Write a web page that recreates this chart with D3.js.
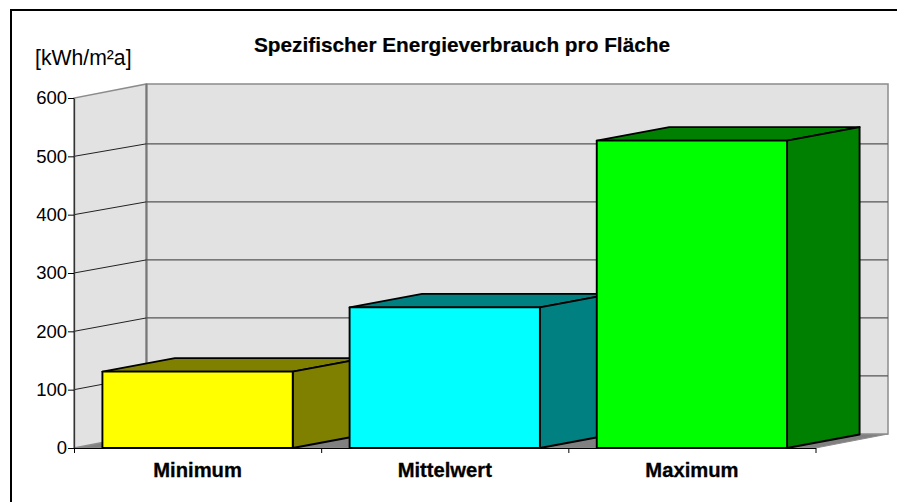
<!DOCTYPE html>
<html lang="en">
<head>
<meta charset="utf-8">
<script src="https://cdn.jsdelivr.net/npm/d3@7"></script>
<style>
    html, body { margin: 0; padding: 0; background: #fff; }
    svg { display: block; }
    text { font-family: "Liberation Sans", Arial, sans-serif; fill: #000; }
</style>
</head>
<body>
<script type="text/javascript">

    var categories = ["Minimum", "Mittelwert", "Maximum"];
    var values = [131, 241, 527];
    var faceColors = ["#ffff00", "#00ffff", "#00ff00"];
    var sideColors = ["#808000", "#008080", "#008000"];
    var yTicks = [0, 100, 200, 300, 400, 500, 600];
    var gridTicks = [100, 200, 300, 400, 500];

    var svgWidth = 897;
    var svgHeight = 502;

    var svg = d3.select("body").append("svg")
            .attr("width", svgWidth)
            .attr("height", svgHeight);

    /* front plane of the 3D box */
    var x = d3.scaleBand()
            .domain(categories)
            .range([74, 815.5])
            .paddingInner(0.23)
            .paddingOuter(0.115);

    var y = d3.scaleLinear()
            .domain([0, 600])
            .range([448, 98]);

    /* back wall has its own scale, the source chart spaces it a bit tighter */
    var yBack = d3.scaleLinear()
            .domain([0, 500])
            .range([434, 143.8]);

    /* depth offset: back wall sits up and right of the front plane */
    var depthX = 72.5;
    var depthY = -14;
    var barDepthY = -13.5;
    var left = x.range()[0];
    var right = x.range()[1];

    function poly(points) {
        return d3.line()(points) + "Z";
    }

    var wallColor = "#e2e2e2";
    var wallEdge = "#8c8c8c";
    var gridColor = "#555555";

    /* floor */
    svg.append("path")
            .attr("d", poly([[left, y(0)], [left + depthX, y(0) + depthY], [right + depthX, y(0) + depthY], [right, y(0)]]))
            .attr("fill", "#808080")
            .attr("stroke", wallEdge);

    /* side wall */
    svg.append("path")
            .attr("d", poly([[left, y(0)], [left, y(600)], [left + depthX, y(600) + depthY], [left + depthX, y(0) + depthY]]))
            .attr("fill", wallColor)
            .attr("stroke", wallEdge)
            .attr("stroke-width", 1.5);

    /* back wall */
    svg.append("rect")
            .attr("x", left + depthX)
            .attr("y", y(600) + depthY)
            .attr("width", right - left)
            .attr("height", y(0) - y(600))
            .attr("fill", wallColor)
            .attr("stroke", wallEdge)
            .attr("stroke-width", 1.5);

    svg.append("line")
            .attr("x1", left + depthX).attr("y1", y(600) + depthY)
            .attr("x2", left + depthX).attr("y2", y(0) + depthY)
            .attr("stroke", "#777")
            .attr("stroke-width", 2);

    /* grid lines */
    var grid = svg.append("g");
    gridTicks.forEach(function(d) {
        grid.append("line")
                .attr("x1", left).attr("y1", y(d))
                .attr("x2", left + depthX).attr("y2", yBack(d))
                .attr("stroke", "#222");
        grid.append("line")
                .attr("x1", left + depthX).attr("y1", yBack(d))
                .attr("x2", right + depthX).attr("y2", yBack(d))
                .attr("stroke", gridColor)
                .attr("stroke-width", 1.3);
    });

    /* axes */
    var yAxis = svg.append("g")
            .attr("transform", "translate(" + left + ",0)")
            .call(d3.axisLeft(y).tickValues(yTicks).tickSize(6).tickPadding(1).tickSizeOuter(0));
    yAxis.select(".domain").attr("stroke", "#333").attr("stroke-width", 1.3);
    yAxis.selectAll("text").style("font-size", "18.5px").attr("fill", "#000");

    var xTicks = d3.scalePoint().domain(d3.range(categories.length + 1)).range([left, right]);
    var xAxisTicks = svg.append("g")
            .attr("transform", "translate(0," + y(0) + ")")
            .call(d3.axisBottom(xTicks).tickSize(5).tickSizeOuter(0).tickFormat(""));

    var xAxis = svg.append("g")
            .attr("transform", "translate(0," + y(0) + ")")
            .call(d3.axisBottom(x).tickSize(0).tickPadding(15));
    xAxis.select(".domain").remove();
    xAxis.selectAll("text")
            .style("font-size", "20.2px")
            .style("font-weight", "bold")
            .style("stroke", "#000")
            .style("stroke-width", 0.3)
            .attr("fill", "#000");

    /* bars, drawn left to right so that each front hides the side of the one before */
    var bars = svg.selectAll(".bar")
            .data(values)
            .enter()
            .append("g")
            .attr("class", "bar");

    function barX(i) { return x(categories[i]); }

    bars.append("path")   // top
            .attr("d", function(d, i) {
                var x0 = barX(i), x1 = x0 + x.bandwidth(), t = y(d);
                return poly([[x0, t], [x0 + depthX, t + barDepthY], [x1 + depthX, t + barDepthY], [x1, t]]);
            })
            .attr("fill", function(d, i) { return sideColors[i]; });

    bars.append("path")   // side
            .attr("d", function(d, i) {
                var x1 = barX(i) + x.bandwidth();
                return poly([[x1, y(d)], [x1 + depthX, y(d) + barDepthY], [x1 + depthX, y(0) + barDepthY], [x1, y(0)]]);
            })
            .attr("fill", function(d, i) { return sideColors[i]; });

    bars.append("rect")   // front
            .attr("x", function(d, i) { return barX(i); })
            .attr("y", function(d) { return y(d); })
            .attr("width", x.bandwidth())
            .attr("height", function(d) { return y(0) - y(d); })
            .attr("fill", function(d, i) { return faceColors[i]; });

    bars.selectAll("path, rect")
            .attr("stroke", "#000")
            .attr("stroke-width", 1.9)
            .attr("stroke-linejoin", "round");

    /* texts */
    svg.append("text")
            .attr("x", 462)
            .attr("y", 52)
            .attr("text-anchor", "middle")
            .style("font-size", "20.8px")
            .style("font-weight", "bold")
            .style("stroke", "#000")
            .style("stroke-width", 0.2)
            .text("Spezifischer Energieverbrauch pro Fläche");

    svg.append("text")
            .attr("x", 35)
            .attr("y", 65)
            .style("font-size", "21.2px")
            .text("[kWh/m²a]");

    /* outer frame, open on the right and at the bottom */
    svg.append("path")
            .attr("d", d3.line()([[11, svgHeight], [11, 10], [svgWidth, 10]]))
            .attr("fill", "none")
            .attr("stroke", "#000")
            .attr("stroke-width", 2);

</script>
</body>
</html>
